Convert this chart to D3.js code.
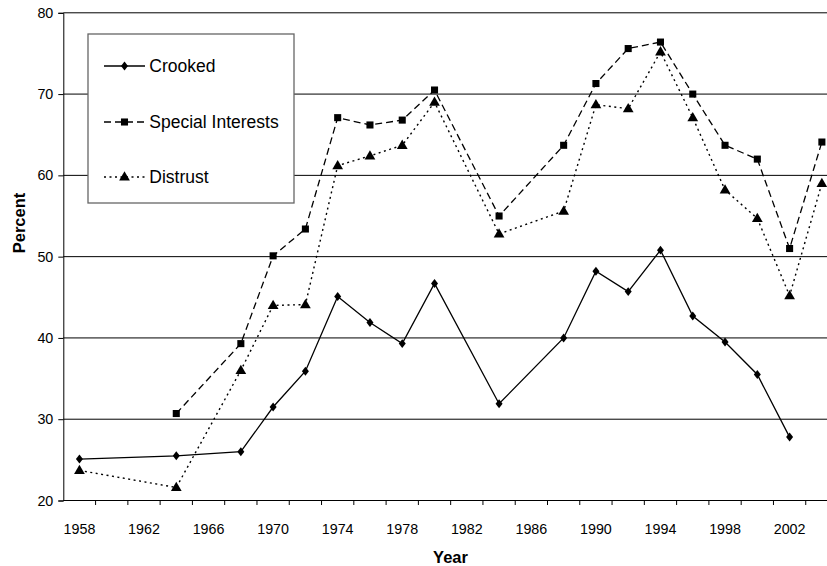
<!DOCTYPE html>
<html>
<head>
<meta charset="utf-8">
<script src="https://cdn.jsdelivr.net/npm/d3@7"></script>
<style>
  html, body { margin: 0; padding: 0; background: #fff; }
  svg { display: block; font-family: "Liberation Sans", Arial, sans-serif; }
</style>
</head>
<body>
<svg id="chart" width="827" height="566"></svg>
<script>
// ---- data ----
const years = [1958, 1960, 1962, 1964, 1966, 1968, 1970, 1972, 1974, 1976, 1978, 1980,
               1982, 1984, 1986, 1988, 1990, 1992, 1994, 1996, 1998, 2000, 2002, 2004];
const crooked = [25.1, null, null, 25.5, null, 26.0, 31.5, 35.9, 45.1, 41.9, 39.3, 46.7,
                 null, 31.9, null, 40.0, 48.2, 45.7, 50.8, 42.7, 39.5, 35.5, 27.8, null];
const specialInterests = [null, null, null, 30.7, null, 39.3, 50.1, 53.4, 67.1, 66.2, 66.8, 70.5,
                 null, 55.0, null, 63.7, 71.3, 75.6, 76.4, 70.0, 63.7, 62.0, 51.0, 64.1];
const distrust = [23.7, null, null, 21.6, null, 36.0, 44.0, 44.1, 61.2, 62.4, 63.7, 69.0,
                 null, 52.8, null, 55.6, 68.7, 68.2, 75.2, 67.1, 58.2, 54.7, 45.2, 59.0];
const xTickLabels = [1958, 1962, 1966, 1970, 1974, 1978, 1982, 1986, 1990, 1994, 1998, 2002];
const yTicks = [20, 30, 40, 50, 60, 70, 80];
const seriesNames = ["Crooked", "Special Interests", "Distrust"];

// ---- layout ----
const svg = d3.select("#chart");
const left = 63.3, bandW = 32.28;
const x = d3.scaleBand().domain(years).range([left, left + bandW * years.length]).paddingInner(0).paddingOuter(0);
const y = d3.scaleLinear().domain([20, 80]).range([500.5, 12.8]);
const xc = d => x(d) + x.bandwidth() / 2;

// gridlines
svg.append("g").selectAll("line").data(yTicks.filter(v => v > 20)).join("line")
  .attr("x1", left).attr("x2", 827)
  .attr("y1", d => y(d)).attr("y2", d => y(d))
  .attr("stroke", "#000").attr("stroke-width", 1);

// y axis
const yAxis = svg.append("g").attr("transform", `translate(${left},0)`)
  .call(d3.axisLeft(y).tickValues(yTicks).tickSize(5).tickPadding(5));
yAxis.select(".domain").attr("stroke", "#000");
yAxis.selectAll(".tick line").attr("stroke", "#000");
yAxis.selectAll("text").attr("font-size", "14.3px").attr("fill", "#000")
  .attr("font-family", "Liberation Sans, Arial, sans-serif");

// x axis: domain line, boundary ticks, labels between ticks
const xg = svg.append("g");
xg.append("line").attr("x1", left).attr("x2", 827).attr("y1", y(20)).attr("y2", y(20)).attr("stroke", "#000");
xg.selectAll("line.tk").data(years.slice(1)).join("line").attr("class", "tk")
  .attr("x1", d => x(d)).attr("x2", d => x(d))
  .attr("y1", y(20)).attr("y2", y(20) + 4.5).attr("stroke", "#000");
xg.selectAll("text").data(xTickLabels).join("text")
  .attr("x", d => xc(d)).attr("y", 534).attr("text-anchor", "middle")
  .attr("font-size", "14.3px").attr("fill", "#000").text(d => d);

// axis titles
svg.append("text").attr("x", 450.5).attr("y", 562.5).attr("text-anchor", "middle")
  .attr("font-size", "16.5px").attr("font-weight", "bold").text("Year");
svg.append("text").attr("transform", "translate(25,223) rotate(-90)").attr("text-anchor", "middle")
  .attr("font-size", "16.5px").attr("font-weight", "bold").text("Percent");

// series
const styles = [
  { data: crooked, dash: null, sym: d3.symbolDiamond, size: 32, w: 1.3 },
  { data: specialInterests, dash: "7,4", sym: d3.symbolSquare, size: 50, w: 1.3 },
  { data: distrust, dash: "2,3.5", sym: d3.symbolTriangle, size: 50, w: 1.4 }
];
const line = d3.line().x(d => xc(d.year)).y(d => y(d.v));

styles.forEach(s => {
  const pts = years.map((yr, i) => ({ year: yr, v: s.data[i] })).filter(d => d.v != null);
  svg.append("path").datum(pts).attr("d", line)
    .attr("fill", "none").attr("stroke", "#000").attr("stroke-width", s.w)
    .attr("stroke-dasharray", s.dash);
  svg.append("g").selectAll("path").data(pts).join("path")
    .attr("d", d3.symbol().type(s.sym).size(s.size))
    .attr("transform", d => `translate(${xc(d.year)},${y(d.v) + (s.sym === d3.symbolTriangle ? 0.5 : 0)})` +
      (s.sym === d3.symbolDiamond ? " scale(1.15,0.85)" : ""))
    .attr("fill", "#000");
});

// legend
const lg = svg.append("g");
lg.append("rect").attr("x", 88).attr("y", 34).attr("width", 206).attr("height", 169)
  .attr("fill", "#fff").attr("stroke", "#666").attr("stroke-width", 1.3);
const legY = [66, 122, 177];
styles.forEach((s, i) => {
  lg.append("line").attr("x1", 104).attr("x2", 145).attr("y1", legY[i]).attr("y2", legY[i])
    .attr("stroke", "#000").attr("stroke-width", s.w).attr("stroke-dasharray", s.dash);
  lg.append("path").attr("d", d3.symbol().type(s.sym).size(s.size))
    .attr("transform", `translate(124.5,${legY[i] + (s.sym === d3.symbolTriangle ? 0.5 : 0)})` +
      (s.sym === d3.symbolDiamond ? " scale(1.15,0.85)" : ""))
    .attr("fill", "#000");
  lg.append("text").attr("x", 149.3).attr("y", legY[i]).attr("dy", "0.36em")
    .attr("font-size", "17.5px").attr("fill", "#000").text(seriesNames[i]);
});
</script>
</body>
</html>
